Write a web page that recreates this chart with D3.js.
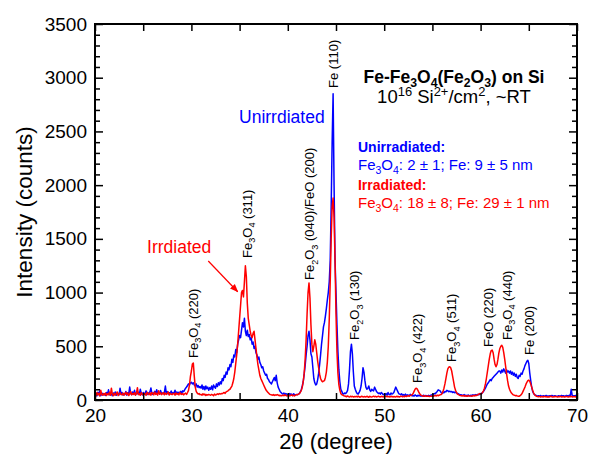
<!DOCTYPE html>
<html><head><meta charset="utf-8">
<script src="https://cdn.jsdelivr.net/npm/d3@7"></script>
<style>
body{margin:0;background:#fff}
text{font-family:"Liberation Sans",Arial,Helvetica,sans-serif}
</style>
</head><body>
<svg id="chart" width="589" height="457"></svg>
<script>
// ---- data (2θ sampled from 20° to 70° every 0.1°) ----
const angleStart = 20;
const angleStep = 0.1;

const unirradiated = [
45,60,38,72,50,85,40,55,62,48,
58,42,70,55,95,48,60,52,40,66,
50,75,44,58,62,48,110,55,70,46,
60,52,80,45,68,58,120,62,50,74,
55,90,48,66,58,72,52,100,60,48,
70,55,62,85,50,68,58,76,112,60,
52,66,80,58,95,62,70,54,88,60,
65,58,72,130,60,78,55,68,62,84,
58,70,62,90,66,75,60,72,68,80,
62,85,78,95,110,120,135,150,140,160,
165,150,160,140,130,150,120,135,115,125,
110,140,100,125,95,130,105,120,90,115,
100,130,95,140,120,110,150,125,160,140,
170,150,200,180,230,210,260,240,300,280,
330,310,380,350,420,400,470,440,520,560,
600,580,650,720,680,760,640,600,650,590,
610,560,580,520,540,480,500,440,420,380,
400,350,330,300,310,270,250,230,240,200,
190,170,160,150,170,190,210,180,230,160,
120,100,80,70,60,55,65,50,60,55,
50,45,60,48,55,42,58,50,45,52,
50,55,60,75,95,130,170,240,320,420,
500,600,640,560,430,400,300,200,160,140,
150,190,250,330,420,520,600,680,720,780,
850,930,1000,1100,1300,1800,2400,2850,2000,1300,
1000,700,450,280,170,100,80,60,55,65,
60,70,90,150,280,450,520,430,260,130,
100,75,60,55,70,90,130,200,300,260,
180,120,100,110,130,95,80,100,90,85,
120,100,80,70,60,65,55,70,60,50,
55,48,60,45,70,52,48,65,55,60,
70,95,120,100,80,60,55,50,58,45,
50,42,55,38,48,45,40,52,44,38,
42,36,48,40,35,45,38,42,36,40,
38,45,35,42,40,36,44,38,42,48,
45,52,60,58,70,80,95,90,85,70,
60,72,68,80,75,90,85,78,82,76,
80,70,75,68,72,65,60,58,52,50,
48,45,42,50,40,44,38,46,42,40,
44,40,48,42,46,50,45,52,48,55,
60,58,70,80,95,110,130,150,160,175,
190,180,200,210,220,230,240,250,260,270,
270,250,280,260,290,270,250,280,260,270,
250,270,240,260,230,250,220,240,210,200,
230,220,250,240,270,290,320,340,360,370,
340,250,180,120,80,60,50,45,40,38,
40,35,42,38,36,40,34,38,42,36,
38,35,40,36,42,38,34,40,37,35,
36,40,34,38,42,36,40,35,38,42,
40,36,45,38,100,42,38,40,36,44,
38];

const irradiated = [
55,40,70,48,62,38,90,52,44,60,
48,66,42,58,50,72,45,110,55,40,
62,46,58,75,42,55,68,50,48,64,
44,58,72,50,66,42,56,80,48,60,
52,68,45,62,115,50,58,44,70,55,
48,62,56,44,72,58,50,66,45,70,
60,48,74,52,62,45,86,55,68,50,
58,70,48,64,52,60,75,46,62,55,
50,62,58,45,66,52,60,48,70,56,
52,60,48,58,64,52,70,90,140,220,
270,335,345,220,120,80,65,55,60,50,
52,45,58,48,55,42,50,46,52,48,
45,52,48,40,55,46,50,58,52,60,
55,60,58,65,70,62,75,80,85,95,
100,115,130,160,200,260,340,420,520,640,
760,880,1000,1020,960,1100,1250,1150,900,760,
700,640,600,580,620,640,560,480,400,330,
280,230,200,180,160,140,120,100,85,75,
65,55,50,48,45,50,42,48,45,50,
46,40,44,38,42,45,40,48,42,38,
40,45,38,42,48,40,44,38,46,50,
48,55,60,72,90,120,170,250,380,560,
800,1000,1090,950,700,520,450,500,560,520,
440,360,300,240,200,180,170,175,180,210,
260,350,500,750,1100,1500,1800,1880,1700,1300,
800,450,250,140,90,60,50,45,40,38,
35,30,38,32,28,35,30,34,28,32,
30,34,28,36,30,26,32,35,28,30,
32,28,35,30,26,34,30,28,32,36,
30,34,28,32,36,30,28,34,30,32,
28,32,36,30,34,28,32,30,35,28,
32,30,28,35,30,32,28,34,36,30,
34,30,38,32,36,40,35,42,45,50,
60,80,100,110,105,90,70,55,45,40,
38,35,40,36,34,38,35,32,36,34,
38,35,40,42,38,45,40,44,48,50,
60,80,110,150,200,250,290,305,310,300,
270,220,170,120,90,70,55,50,45,42,
40,38,42,36,40,38,35,40,38,36,
38,35,40,42,38,45,42,48,55,60,
55,60,70,85,110,150,200,260,320,380,
430,460,465,440,380,330,310,330,380,440,
480,500,510,490,440,380,310,240,180,130,
100,80,65,55,48,45,40,42,38,36,
35,40,50,60,80,100,120,145,165,180,
185,175,150,120,90,65,50,40,35,32,
30,34,28,32,30,28,34,30,32,28,
30,28,32,35,30,28,32,30,34,30,
28,32,30,34,28,30,32,28,30,34,
30,28,32,30,34,28,30,32,30,28,
30];

const xTickValues = [20, 30, 40, 50, 60, 70];
const xMinorValues = [25, 35, 45, 55, 65];
const yTickValues = [0, 500, 1000, 1500, 2000, 2500, 3000, 3500];

// peak labels: text, 2θ of label, intensity at the label's lower end
const peakNames  = ["Fe_3O_4 (220)", "Fe_3O_4 (311)", "Fe_2O_3 (040)/FeO (200)", "Fe (110)", "Fe_2O_3 (130)",
                    "Fe_3O_4 (422)", "Fe_3O_4 (511)", "FeO (220)", "Fe_3O_4 (440)", "Fe (200)"];
const peakAngles = [30.17, 35.77, 42.3, 44.69, 46.97, 53.5, 57.03, 60.77, 62.74, 65.12];
const peakLevels = [391, 1322, 1117, 2905, 559, 158, 354, 493, 559, 419];

// ---- layout ----
const W = 589, H = 457;
const m = {left: 95, right: 12, top: 24, bottom: 57};
const pw = W - m.left - m.right, ph = H - m.top - m.bottom;

const svg = d3.select("#chart");
svg.append("rect").attr("width", W).attr("height", H).attr("fill", "#fff");
const g = svg.append("g").attr("transform", `translate(${m.left},${m.top})`);

const x = d3.scaleLinear().domain([20, 70]).range([0, pw]);
const y = d3.scaleLinear().domain([0, 3500]).range([ph, 0]);

g.append("clipPath").attr("id", "clip").append("rect").attr("width", pw).attr("height", ph);

const line = d3.line()
  .x((d, i) => x(angleStart + i * angleStep))
  .y(d => y(d));

g.append("path").datum(unirradiated).attr("clip-path", "url(#clip)")
  .attr("fill", "none").attr("stroke", "#0000ff").attr("stroke-width", 1.5)
  .attr("stroke-linejoin", "round").attr("d", line);
g.append("path").datum(irradiated).attr("clip-path", "url(#clip)")
  .attr("fill", "none").attr("stroke", "#ff0000").attr("stroke-width", 1.5)
  .attr("stroke-linejoin", "round").attr("d", line);

// ---- axes ----
const fmt = d3.format("d");
function styleAxis(sel) {
  sel.select(".domain").remove();
  sel.selectAll(".tick line").attr("stroke", "#000").attr("stroke-width", 1.5);
  sel.selectAll("text").attr("fill", "#000").style("font-size", "19px")
    .style("font-family", '"Liberation Sans",Arial,sans-serif');
}
const yMinor = d3.range(0, 3501, 100).filter(v => v % 500 !== 0);

g.append("g").attr("transform", `translate(0,${ph})`)
  .call(d3.axisBottom(x).tickValues(xTickValues).tickFormat(fmt).tickSize(-7).tickPadding(9)).call(styleAxis);
g.append("g").attr("transform", `translate(0,${ph})`)
  .call(d3.axisBottom(x).tickValues(xMinorValues).tickFormat("").tickSize(-7)).call(styleAxis);
g.append("g")
  .call(d3.axisTop(x).tickValues(xTickValues.concat(xMinorValues)).tickFormat("").tickSize(-7)).call(styleAxis);
g.append("g")
  .call(d3.axisLeft(y).tickValues(yTickValues).tickFormat(fmt).tickSize(-8).tickPadding(8)).call(styleAxis);
g.append("g")
  .call(d3.axisLeft(y).tickValues(yMinor).tickFormat("").tickSize(-5)).call(styleAxis);
g.append("g").attr("transform", `translate(${pw},0)`)
  .call(d3.axisRight(y).tickValues(yTickValues).tickFormat("").tickSize(-8)).call(styleAxis);
g.append("g").attr("transform", `translate(${pw},0)`)
  .call(d3.axisRight(y).tickValues(yMinor).tickFormat("").tickSize(-5)).call(styleAxis);

g.append("rect").attr("width", pw).attr("height", ph)
  .attr("fill", "none").attr("stroke", "#000").attr("stroke-width", 2);

// axis titles
svg.append("text").attr("x", m.left + pw / 2).attr("y", 449).attr("text-anchor", "middle")
  .style("font-size", "22px").text("2θ (degree)");
svg.append("text").attr("transform", `translate(32,${m.top + ph / 2}) rotate(-90)`).attr("text-anchor", "middle")
  .style("font-size", "22.5px").text("Intensity (counts)");

// ---- rich text helper: _x subscript (one char), ^{..} superscript ----
function parseRich(s) {
  const parts = []; let buf = "";
  for (let i = 0; i < s.length; i++) {
    const c = s[i];
    if (c === "_") { if (buf) parts.push([buf, 0]); buf = ""; parts.push([s[i + 1], 1]); i++; }
    else if (c === "^" && s[i + 1] === "{") {
      if (buf) parts.push([buf, 0]); buf = "";
      const j = s.indexOf("}", i); parts.push([s.slice(i + 2, j), -1]); i = j;
    } else buf += c;
  }
  if (buf) parts.push([buf, 0]);
  return parts;
}
function rich(sel, s, fs, subK = 0.3, supK = 0.42) {
  let cur = 0;
  parseRich(s).forEach(([t, k]) => {
    const shift = k === 1 ? fs * subK : k === -1 ? -fs * supK : 0;
    const size = k === 0 ? fs : fs * 0.7;
    sel.append("tspan").attr("dy", shift - cur).style("font-size", size + "px").text(t);
    cur = shift;
  });
  return sel;
}

// peak labels (rotated)
peakNames.forEach((name, i) => {
  const px = x(peakAngles[i]) + 4.5, py = y(peakLevels[i]);
  const t = g.append("text").attr("transform", `translate(${px},${py}) rotate(-90)`)
    .attr("fill", "#000").style("font-size", "13px");
  rich(t, name, 13);
});

// curve names + arrow
g.append("text").attr("x", x(34.94)).attr("y", y(2579)).attr("fill", "#0000ff")
  .style("font-size", "17.5px").text("Unirrdiated");
g.append("text").attr("x", x(25.4)).attr("y", y(1369)).attr("fill", "#ff0000")
  .style("font-size", "17.5px").text("Irrdiated");

svg.append("defs").append("marker").attr("id", "arr").attr("viewBox", "0 0 10 10")
  .attr("refX", 9).attr("refY", 5).attr("markerWidth", 7).attr("markerHeight", 7)
  .attr("orient", "auto").append("path").attr("d", "M0,1 L10,5 L0,9 Z").attr("fill", "#ff0000");
g.append("line").attr("x1", x(31.75)).attr("y1", y(1294)).attr("x2", x(34.8)).attr("y2", y(1008))
  .attr("stroke", "#ff0000").attr("stroke-width", 1.2).attr("marker-end", "url(#arr)");

// title block
const cx = x(57.24);
rich(g.append("text").attr("x", cx).attr("y", y(2951)).attr("text-anchor", "middle")
  .style("font-weight", "bold").style("font-size", "17.5px"), "Fe-Fe_3O_4(Fe_2O_3) on Si", 17.5, 0.25);
rich(g.append("text").attr("x", cx).attr("y", y(2760)).attr("text-anchor", "middle")
  .style("font-size", "18.5px"), "10^{16} Si^{2+}/cm^{2}, ~RT", 18.5, 0.3, 0.38);

const lx = x(47.28);
g.append("text").attr("x", lx).attr("y", y(2309)).attr("fill", "#0000ff")
  .style("font-weight", "bold").style("font-size", "14px").text("Unirradiated:");
rich(g.append("text").attr("x", lx).attr("y", y(2142)).attr("fill", "#0000ff").style("font-size", "15px"),
  "Fe_3O_4: 2 ± 1; Fe: 9 ± 5 nm", 15);
g.append("text").attr("x", lx).attr("y", y(1955)).attr("fill", "#ff0000")
  .style("font-weight", "bold").style("font-size", "14px").text("Irradiated:");
rich(g.append("text").attr("x", lx).attr("y", y(1788)).attr("fill", "#ff0000").style("font-size", "15px"),
  "Fe_3O_4: 18 ± 8; Fe: 29 ± 1 nm", 15);
</script>
</body></html>
